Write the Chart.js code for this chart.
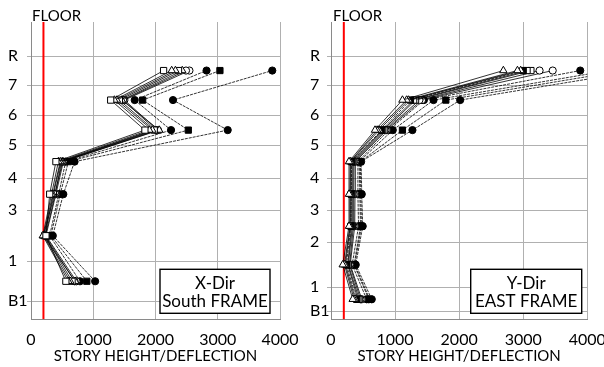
<!DOCTYPE html>
<html>
<head>
<meta charset="utf-8">
<script src="https://cdn.jsdelivr.net/npm/chart.js@4/dist/chart.umd.min.js"></script>
<style>
  html, body { margin: 0; padding: 0; background: #fff; }
  #wrap { display: flex; width: 604px; height: 367px; }
  canvas { display: block; }
</style>
</head>
<body>
<div id="wrap">
  <canvas id="southFrame" width="302" height="367"></canvas>
  <canvas id="eastFrame" width="302" height="367"></canvas>
</div>
<script>
// ---- floor levels (m) and their labels ----
const southFloorLabels = ['B1', '1', '3', '4', '5', '6', '7', 'R'];
const southFloorLevels = [1.8, 5.8, 10.9, 14.1, 17.4, 20.4, 23.4, 26.3];
const eastFloorLabels = ['B1', '1', '2', '3', '4', '5', '6', '7', 'R'];
const eastFloorLevels = [0.8, 3.2, 7.7, 10.9, 14.1, 17.4, 20.4, 23.4, 26.3];
const levelTop = 29.7;

// x axis ticks and the allowable story drift ratio (h/200)
const ratioTicks = [0, 1000, 2000, 3000, 4000];
const allowableRatio = 200;

// ---- story height / deflection, lowest story first ----
// X-Dir, South frame (stories 1-B1, 3-1, 4-3, 5-4, 6-5, 7-6, R-7)
const southCase1  = [560, 240, 300, 400, 1830, 1280, 2130];
const southCase2  = [600, 190, 330, 440, 1900, 1340, 2260];
const southCase3  = [630, 200, 350, 470, 1950, 1380, 2320];
const southCase4  = [660, 220, 360, 480, 1980, 1420, 2370];
const southCase5  = [710, 200, 380, 510, 2060, 1460, 2430];
const southCase6  = [700, 230, 390, 490, 2010, 1480, 2490];
const southCase7  = [730, 240, 400, 520, 2040, 1500, 2545];
const southCase8  = [787, 300, 445, 557, 2250, 1666, 2820];
const southCase9  = [897, 320, 470, 600, 2527, 1794, 3035];
const southCase10 = [1030, 350, 519, 700, 3160, 2281, 3876];

// Y-Dir, East frame (stories 1-B1, 2-1, 3-2, 4-3, 5-4, 6-5, 7-6, R-7)
const eastCase1  = [339, 183, 281, 281, 281, 687, 1115, 2690];
const eastCase2  = [360, 210, 295, 295, 300, 720, 1180, 2910];
const eastCase3  = [380, 225, 300, 305, 310, 750, 1210, 2960];
const eastCase4  = [400, 240, 310, 315, 320, 790, 1240, 3000];
const eastCase5  = [420, 261, 320, 325, 330, 807, 1290, 3060];
const eastCase6  = [440, 270, 335, 340, 345, 830, 1320, 3120];
const eastCase7  = [460, 290, 350, 355, 360, 850, 1380, 3255];
const eastCase8  = [480, 300, 370, 375, 380, 870, 1420, 3460];
const eastCase9  = [557, 330, 430, 420, 420, 900, 1450, 3890];
const eastCase10 = [590, 360, 460, 450, 440, 964, 1600, 4340];
const eastCase11 = [605, 370, 475, 465, 460, 1115, 1792, 4570];
const eastCase12 = [636, 386, 495, 480, 470, 1271, 2016, 4820];

const southSeries = [southCase1, southCase2, southCase3, southCase4, southCase5,
  southCase6, southCase7, southCase8, southCase9, southCase10];
const eastSeries = [eastCase1, eastCase2, eastCase3, eastCase4, eastCase5, eastCase6,
  eastCase7, eastCase8, eastCase9, eastCase10, eastCase11, eastCase12];

// ---- marker styles ----
const southMarkers = ['rect', 'triangle', 'triangle', 'rect', 'triangle', 'circle', 'circle', 'circle', 'rect', 'circle'];
const southFilled  = [false, false, false, false, false, false, false, true, true, true];
const eastMarkers  = ['triangle', 'triangle', 'triangle', 'rect', 'rect', 'rect', 'circle', 'circle', 'circle', 'circle', 'rect', 'circle'];
const eastFilled   = [false, false, false, true, false, false, false, false, true, true, true, true];

const FONT = 'Lato, "Open Sans", sans-serif';

// story mid-heights, where each story's value is plotted
function storyMids(levels) {
  const mids = [];
  for (let i = 0; i < levels.length - 1; i++) mids.push((levels[i] + levels[i + 1]) / 2);
  return mids;
}

const panelDecor = {
  id: 'panelDecor',
  afterDraw(chart, args, o) {
    const { ctx, chartArea: a } = chart;
    ctx.save();
    ctx.fillStyle = '#000';
    ctx.textBaseline = 'middle';
    ctx.font = '15px ' + FONT;
    ctx.textAlign = 'left';
    ctx.fillText('FLOOR', a.left + o.floorDx, 16);
    ctx.textAlign = 'center';
    ctx.fillText('STORY HEIGHT/DEFLECTION', (a.left + a.right) / 2, 356);
    // caption box
    const w = o.boxW, h = 44;
    const bx = a.right - o.boxRight - w, by = a.bottom - 6 - h;
    ctx.fillStyle = '#fff';
    ctx.fillRect(bx, by, w, h);
    ctx.lineWidth = 1.4;
    ctx.strokeStyle = '#000';
    ctx.strokeRect(bx, by, w, h);
    ctx.fillStyle = '#000';
    ctx.font = '17px ' + FONT;
    ctx.fillText(o.caption[0], bx + w / 2, by + 14);
    ctx.fillText(o.caption[1], bx + w / 2, by + 32);
    ctx.restore();
  }
};

function buildPanel(canvasId, levels, labels, series, markers, filled, opt) {
  const mids = storyMids(levels);
  const datasets = series.map((vals, i) => ({
    data: vals.map((v, k) => ({ x: v, y: mids[k] })),
    borderColor: '#000',
    borderWidth: 0.8,
    borderDash: filled[i] ? [3, 1] : [],
    pointStyle: markers[i],
    pointRadius: markers[i] === 'rect' ? 4.4 : (markers[i] === 'triangle' ? 4.3 : 3.6),
    pointBackgroundColor: filled[i] ? '#000' : '#fff',
    pointBorderColor: '#000',
    pointBorderWidth: 1,
    tension: 0,
    order: 1
  }));
  // allowable limit line
  datasets.push({
    data: [{ x: allowableRatio, y: 0 }, { x: allowableRatio, y: levelTop }],
    borderColor: '#ff0000',
    borderWidth: 2,
    pointRadius: 0,
    order: 5
  });

  return new Chart(document.getElementById(canvasId), {
    type: 'line',
    data: { datasets },
    options: {
      responsive: false,
      animation: false,
      layout: { padding: { left: 8, top: 22, right: opt.padRight, bottom: 0 } },
      plugins: {
        legend: { display: false },
        tooltip: { enabled: false },
        panelDecor: { floorDx: opt.floorDx, boxRight: opt.boxRight, boxW: opt.boxW, caption: opt.caption }
      },
      scales: {
        x: {
          type: 'linear',
          min: ratioTicks[0],
          max: ratioTicks[ratioTicks.length - 1],
          afterBuildTicks: s => { s.ticks = ratioTicks.map(v => ({ value: v })); },
          afterFit: s => { s.height = 47.7; s.paddingLeft = 0; s.paddingRight = 0; },
          ticks: {
            color: '#000', font: { family: FONT, size: 16 }, padding: 11, maxRotation: 0,
            callback: v => String(v)
          },
          grid: { color: '#b0b0b0', lineWidth: 1, drawTicks: false },
          border: { color: '#8a8a8a', width: 1 }
        },
        y: {
          type: 'linear',
          min: 0,
          max: levelTop,
          afterBuildTicks: s => { s.ticks = levels.map(v => ({ value: v })); },
          afterFit: s => { s.width = opt.axisW; s.paddingTop = 0; s.paddingBottom = 0; },
          ticks: {
            color: '#000',
            font: { family: FONT, size: 16 },
            crossAlign: 'far',
            callback: v => labels[levels.indexOf(v)]
          },
          grid: { color: '#b0b0b0', lineWidth: 1, tickLength: 4 },
          border: { color: '#8a8a8a', width: 1 }
        }
      }
    },
    plugins: [panelDecor]
  });
}

buildPanel('southFrame', southFloorLevels, southFloorLabels, southSeries, southMarkers, southFilled,
  { padRight: 22, axisW: 23, floorDx: 1, boxRight: 10, boxW: 110, caption: ['X-Dir', 'South FRAME'] });
buildPanel('eastFrame', eastFloorLevels, eastFloorLabels, eastSeries, eastMarkers, eastFilled,
  { padRight: 16.7, axisW: 21, floorDx: 2, boxRight: 5.6, boxW: 111, caption: ['Y-Dir', 'EAST FRAME'] });
</script>
</body>
</html>
